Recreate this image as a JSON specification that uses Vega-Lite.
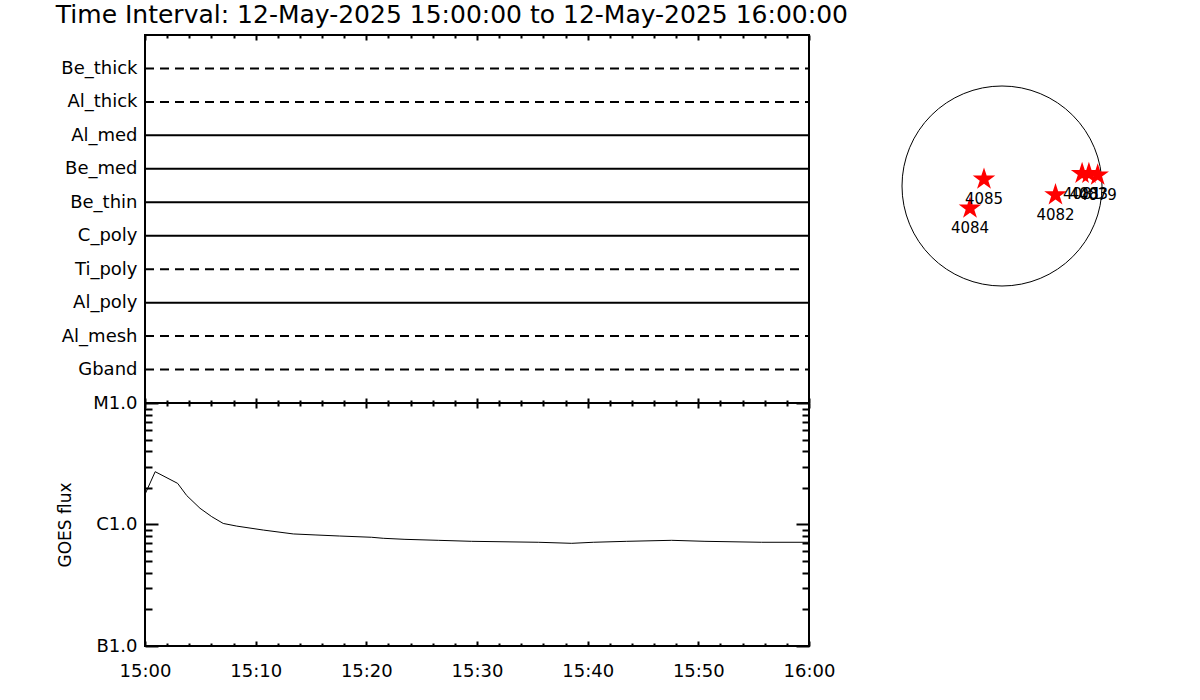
{
  "$schema": "https://vega.github.io/schema/vega-lite/v6.json",
  "background": "white",
  "padding": {"left": 55, "top": 3, "right": 5, "bottom": 5},
  "title": {"text": "Time Interval: 12-May-2025 15:00:00 to 12-May-2025 16:00:00", "anchor": "start", "frame": "bounds", "fontSize": 25, "fontWeight": "normal", "font": "DejaVu Sans", "color": "black", "offset": 5},
  "config": {
    "font": "DejaVu Sans",
    "view": {"stroke": "black", "strokeWidth": 2},
    "axis": {"domain": false, "grid": false, "labelColor": "black", "tickColor": "black", "labelFont": "DejaVu Sans", "labelFontSize": 18, "titleColor": "black", "titleFont": "DejaVu Sans", "titleFontWeight": "normal", "labelOverlap": false, "labelFlush": false, "tickWidth": 2}
  },
  "datasets": {
    "filters": [
      {"filter": "Be_thick", "style": "dashed", "t0": 0, "t1": 60},
      {"filter": "Al_thick", "style": "dashed", "t0": 0, "t1": 60},
      {"filter": "Al_med", "style": "solid", "t0": 0, "t1": 60},
      {"filter": "Be_med", "style": "solid", "t0": 0, "t1": 60},
      {"filter": "Be_thin", "style": "solid", "t0": 0, "t1": 60},
      {"filter": "C_poly", "style": "solid", "t0": 0, "t1": 60},
      {"filter": "Ti_poly", "style": "dashed", "t0": 0, "t1": 59.63},
      {"filter": "Al_poly", "style": "solid", "t0": 0, "t1": 60},
      {"filter": "Al_mesh", "style": "dashed", "t0": 0, "t1": 60},
      {"filter": "Gband", "style": "dashed", "t0": 0, "t1": 60}
    ],
    "goes": [
      {"t": 0, "flux": 1.77e-6},
      {"t": 0.92, "flux": 2.72e-6},
      {"t": 2.95, "flux": 2.18e-6},
      {"t": 3.77, "flux": 1.73e-6},
      {"t": 4.97, "flux": 1.36e-6},
      {"t": 6.03, "flux": 1.16e-6},
      {"t": 7.07, "flux": 1.02e-6},
      {"t": 8.29, "flux": 9.7e-7},
      {"t": 10.69, "flux": 9.0e-7},
      {"t": 13.4, "flux": 8.36e-7},
      {"t": 15.45, "flux": 8.2e-7},
      {"t": 17.56, "flux": 8.04e-7},
      {"t": 20.48, "flux": 7.85e-7},
      {"t": 21.53, "flux": 7.7e-7},
      {"t": 23.49, "flux": 7.55e-7},
      {"t": 26.5, "flux": 7.41e-7},
      {"t": 29.52, "flux": 7.27e-7},
      {"t": 35.54, "flux": 7.14e-7},
      {"t": 38.56, "flux": 7.0e-7},
      {"t": 40.51, "flux": 7.14e-7},
      {"t": 43.53, "flux": 7.27e-7},
      {"t": 47.59, "flux": 7.41e-7},
      {"t": 50.6, "flux": 7.27e-7},
      {"t": 55.72, "flux": 7.14e-7},
      {"t": 60, "flux": 7.14e-7}
    ],
    "regions": [
      {"ar": "4085", "x": -180, "y": 89},
      {"ar": "4084", "x": -320, "y": -295},
      {"ar": "4082", "x": 535, "y": -118},
      {"ar": "4081", "x": 801, "y": 165},
      {"ar": "4083", "x": 869, "y": 165},
      {"ar": "4079", "x": 957, "y": 144}
    ]
  },
  "hconcat": [
    {
      "vconcat": [
        {
          "width": 664,
          "height": 368,
          "data": {"name": "filters"},
          "layer": [
            {
              "mark": {"type": "rule", "strokeWidth": 2, "color": "black"},
              "encoding": {
                "x": {"field": "t0", "type": "quantitative",
                  "scale": {"domain": [0, 60], "nice": false, "zero": false},
                  "axis": {"orient": "bottom", "labels": false, "title": null, "values": [0, 10, 20, 30, 40, 50, 60], "tickSize": -5}},
                "x2": {"field": "t1"},
                "y": {"field": "filter", "type": "nominal",
                  "scale": {"type": "point", "domain": ["Be_thick", "Al_thick", "Al_med", "Be_med", "Be_thin", "C_poly", "Ti_poly", "Al_poly", "Al_mesh", "Gband"], "padding": 1},
                  "axis": {"orient": "left", "ticks": false, "title": null, "labelPadding": 8}},
                "strokeDash": {"field": "style", "type": "nominal", "scale": {"domain": ["solid", "dashed"], "range": [[1, 0], [9, 6]]}, "legend": null}
              }
            },
            {
              "mark": {"type": "rule", "opacity": 0},
              "encoding": {
                "x": {"field": "t0", "type": "quantitative",
                  "axis": {"orient": "bottom", "labels": false, "title": null, "values": [2, 4, 6, 8, 12, 14, 16, 18, 22, 24, 26, 28, 32, 34, 36, 38, 42, 44, 46, 48, 52, 54, 56, 58], "tickSize": -3}},
                "x2": {"field": "t1"},
                "y": {"field": "filter", "type": "nominal", "axis": null}
              }
            },
            {
              "mark": {"type": "rule", "opacity": 0},
              "encoding": {
                "x": {"field": "t0", "type": "quantitative",
                  "axis": {"orient": "top", "labels": false, "title": null, "values": [0, 10, 20, 30, 40, 50, 60], "tickSize": -5}},
                "x2": {"field": "t1"},
                "y": {"field": "filter", "type": "nominal", "axis": null}
              }
            },
            {
              "mark": {"type": "rule", "opacity": 0},
              "encoding": {
                "x": {"field": "t0", "type": "quantitative",
                  "axis": {"orient": "top", "labels": false, "title": null, "values": [2, 4, 6, 8, 12, 14, 16, 18, 22, 24, 26, 28, 32, 34, 36, 38, 42, 44, 46, 48, 52, 54, 56, 58], "tickSize": -3}},
                "x2": {"field": "t1"},
                "y": {"field": "filter", "type": "nominal", "axis": null}
              }
            }
          ],
          "resolve": {"axis": {"x": "independent", "y": "independent"}}
        },
        {
          "width": 664,
          "height": 243,
          "data": {"name": "goes"},
          "layer": [
            {
              "mark": {"type": "line", "color": "black", "strokeWidth": 1},
              "encoding": {
                "x": {"field": "t", "type": "quantitative",
                  "scale": {"domain": [0, 60], "nice": false, "zero": false},
                  "axis": {"orient": "bottom", "title": null, "values": [0, 10, 20, 30, 40, 50, 60],
                    "labelExpr": "datum.value >= 60 ? '16:00' : '15:' + (datum.value < 10 ? '0' : '') + datum.value",
                    "labelPadding": 21, "tickSize": -5}},
                "y": {"field": "flux", "type": "quantitative",
                  "scale": {"type": "log", "domain": [1e-7, 1e-5], "nice": false},
                  "axis": {"orient": "left", "title": "GOES flux", "titleFontSize": 17, "titlePadding": 18,
                    "values": [1e-7, 1e-6, 1e-5],
                    "labelExpr": "datum.value > 5e-6 ? 'M1.0' : (datum.value > 5e-7 ? 'C1.0' : 'B1.0')",
                    "labelPadding": 21, "tickSize": -13}}
              }
            },
            {
              "mark": {"type": "line", "opacity": 0},
              "encoding": {
                "x": {"field": "t", "type": "quantitative",
                  "axis": {"orient": "bottom", "title": null, "labels": false, "values": [2, 4, 6, 8, 12, 14, 16, 18, 22, 24, 26, 28, 32, 34, 36, 38, 42, 44, 46, 48, 52, 54, 56, 58], "tickSize": -3}},
                "y": {"field": "flux", "type": "quantitative",
                  "axis": {"orient": "left", "title": null, "labels": false,
                    "values": [2e-7, 3e-7, 4e-7, 5e-7, 6e-7, 7e-7, 8e-7, 9e-7, 2e-6, 3e-6, 4e-6, 5e-6, 6e-6, 7e-6, 8e-6, 9e-6], "tickSize": -7}}
              }
            },
            {
              "mark": {"type": "line", "opacity": 0},
              "encoding": {
                "x": {"field": "t", "type": "quantitative",
                  "axis": {"orient": "top", "title": null, "labels": false, "values": [0, 10, 20, 30, 40, 50, 60], "tickSize": -5}},
                "y": {"field": "flux", "type": "quantitative",
                  "axis": {"orient": "right", "title": null, "labels": false, "values": [1e-7, 1e-6, 1e-5], "tickSize": -13}}
              }
            },
            {
              "mark": {"type": "line", "opacity": 0},
              "encoding": {
                "x": {"field": "t", "type": "quantitative",
                  "axis": {"orient": "top", "title": null, "labels": false, "values": [2, 4, 6, 8, 12, 14, 16, 18, 22, 24, 26, 28, 32, 34, 36, 38, 42, 44, 46, 48, 52, 54, 56, 58], "tickSize": -3}},
                "y": {"field": "flux", "type": "quantitative",
                  "axis": {"orient": "right", "title": null, "labels": false,
                    "values": [2e-7, 3e-7, 4e-7, 5e-7, 6e-7, 7e-7, 8e-7, 9e-7, 2e-6, 3e-6, 4e-6, 5e-6, 6e-6, 7e-6, 8e-6, 9e-6], "tickSize": -7}}
              }
            }
          ],
          "resolve": {"axis": {"x": "independent", "y": "independent"}}
        }
      ],
      "spacing": 0,
      "bounds": "flush"
    },
    {
      "width": 240,
      "height": 302,
      "view": {"stroke": null},
      "layer": [
        {
          "data": {"values": [{"x": 0, "y": 0}]},
          "mark": {"type": "point", "shape": "circle", "size": 40000, "filled": false, "color": "black", "strokeWidth": 1, "opacity": 1},
          "encoding": {
            "x": {"field": "x", "type": "quantitative", "scale": {"domain": [-1152, 1152]}, "axis": null},
            "y": {"field": "y", "type": "quantitative", "scale": {"domain": [-1449.6, 1449.6]}, "axis": null}
          }
        },
        {
          "data": {"name": "regions"},
          "mark": {"type": "point", "shape": "M0,-1L0.2245,-0.309L0.951,-0.309L0.363,0.118L0.588,0.809L0,0.382L-0.588,0.809L-0.363,0.118L-0.951,-0.309L-0.2245,-0.309Z", "size": 560, "filled": true, "color": "#ff0000", "opacity": 1, "strokeWidth": 0},
          "encoding": {
            "x": {"field": "x", "type": "quantitative", "axis": null},
            "y": {"field": "y", "type": "quantitative", "axis": null}
          }
        },
        {
          "data": {"name": "regions"},
          "mark": {"type": "text", "fontSize": 15, "dy": 25, "baseline": "alphabetic", "color": "black", "font": "DejaVu Sans"},
          "encoding": {
            "x": {"field": "x", "type": "quantitative", "axis": null},
            "y": {"field": "y", "type": "quantitative", "axis": null},
            "text": {"field": "ar"}
          }
        }
      ]
    }
  ],
  "spacing": 46
}
